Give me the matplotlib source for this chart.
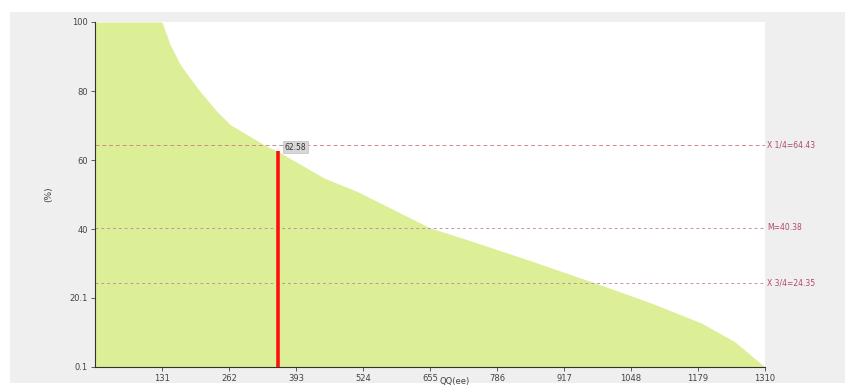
import matplotlib
matplotlib.use("Agg")
import matplotlib.pyplot as plt

# Data
rank = [0, 131, 147, 167, 186, 206, 239, 265, 337, 357, 448, 513, 578, 598, 655, 729, 847, 990, 1088, 1186, 1251, 1310]
pct = [100, 100, 93.4, 87.6, 83.7, 79.8, 74.0, 70.2, 63.9, 62.6, 54.8, 50.9, 46.1, 44.6, 40.4, 36.9, 31.1, 23.8, 18.6, 12.8, 7.4, 0.1]
x_ticks = [131, 262, 393, 524, 655, 786, 917, 1048, 1179, 1310]
y_ticks = [0.1, 20.1, 40, 60, 80, 100]
y_tick_labels = ["0.1", "20.1", "40", "60", "80", "100"]
marker_x = 357
marker_y = 62.58
ref_values = [64.43, 40.38, 24.35]
ref_labels = ["X 1/4=64.43", "M=40.38", "X 3/4=24.35"]

W, H = 854, 387
fig = plt.figure(figsize=(W / 100, H / 100), dpi=100)
fig.patch.set_facecolor("white")

bg = fig.add_axes([10 / W, 1 - 383 / H, 835 / W, 371 / H], zorder=0)
bg.set_facecolor("#efefef")
bg.set_xticks([])
bg.set_yticks([])
for s in bg.spines.values():
    s.set_visible(False)

ax = fig.add_axes([95 / W, 1 - 367 / H, 670 / W, 345 / H], zorder=1)
ax.set_facecolor("white")
ax.fill_between(rank, pct, 0.1, color="#dcee96", linewidth=0, zorder=1)

ax.set_xlim(0, 1310)
ax.set_ylim(0.1, 100)
ax.set_xticks(x_ticks)
ax.set_xticklabels([str(t) for t in x_ticks])
ax.set_yticks(y_ticks)
ax.set_yticklabels(y_tick_labels)
ax.tick_params(labelsize=6, colors="#444444", length=3, width=0.6, pad=2)
for s in ["top", "right"]:
    ax.spines[s].set_visible(False)
for s in ["left", "bottom"]:
    ax.spines[s].set_color("#333333")
    ax.spines[s].set_linewidth(0.8)

# reference lines
styles = [((0, (4, 3)), "#d08a8a"), ((0, (3, 3)), "#c890a8"), ((0, (3, 3)), "#c890a8")]
for v, lab, (ls, c) in zip(ref_values, ref_labels, styles):
    ax.axhline(v, color=c, linestyle=ls, linewidth=0.7, zorder=2)
    ax.text(1.003, v, lab, transform=ax.get_yaxis_transform(), fontsize=5.5,
            color="#b04a6a", va="center", ha="left", clip_on=False)

ax.vlines(marker_x, 0.1, marker_y, color="#ff1010", linewidth=2.6, zorder=3)
ax.text(marker_x + 14, marker_y + 1.2, f"{marker_y:.2f}", fontsize=5.5, color="#333333",
        va="center", ha="left", zorder=4,
        bbox=dict(boxstyle="square,pad=0.25", facecolor="#d6d6d6", edgecolor="#c0c0c0", linewidth=0.5))

ax.set_ylabel("(%)", fontsize=6.5, color="#444444", labelpad=12)
fig.text(455 / W, 1 / H, "QQ(ee)", fontsize=6, color="#444444", ha="center", va="bottom")

fig.savefig("out.png", dpi=100, facecolor=fig.get_facecolor())
